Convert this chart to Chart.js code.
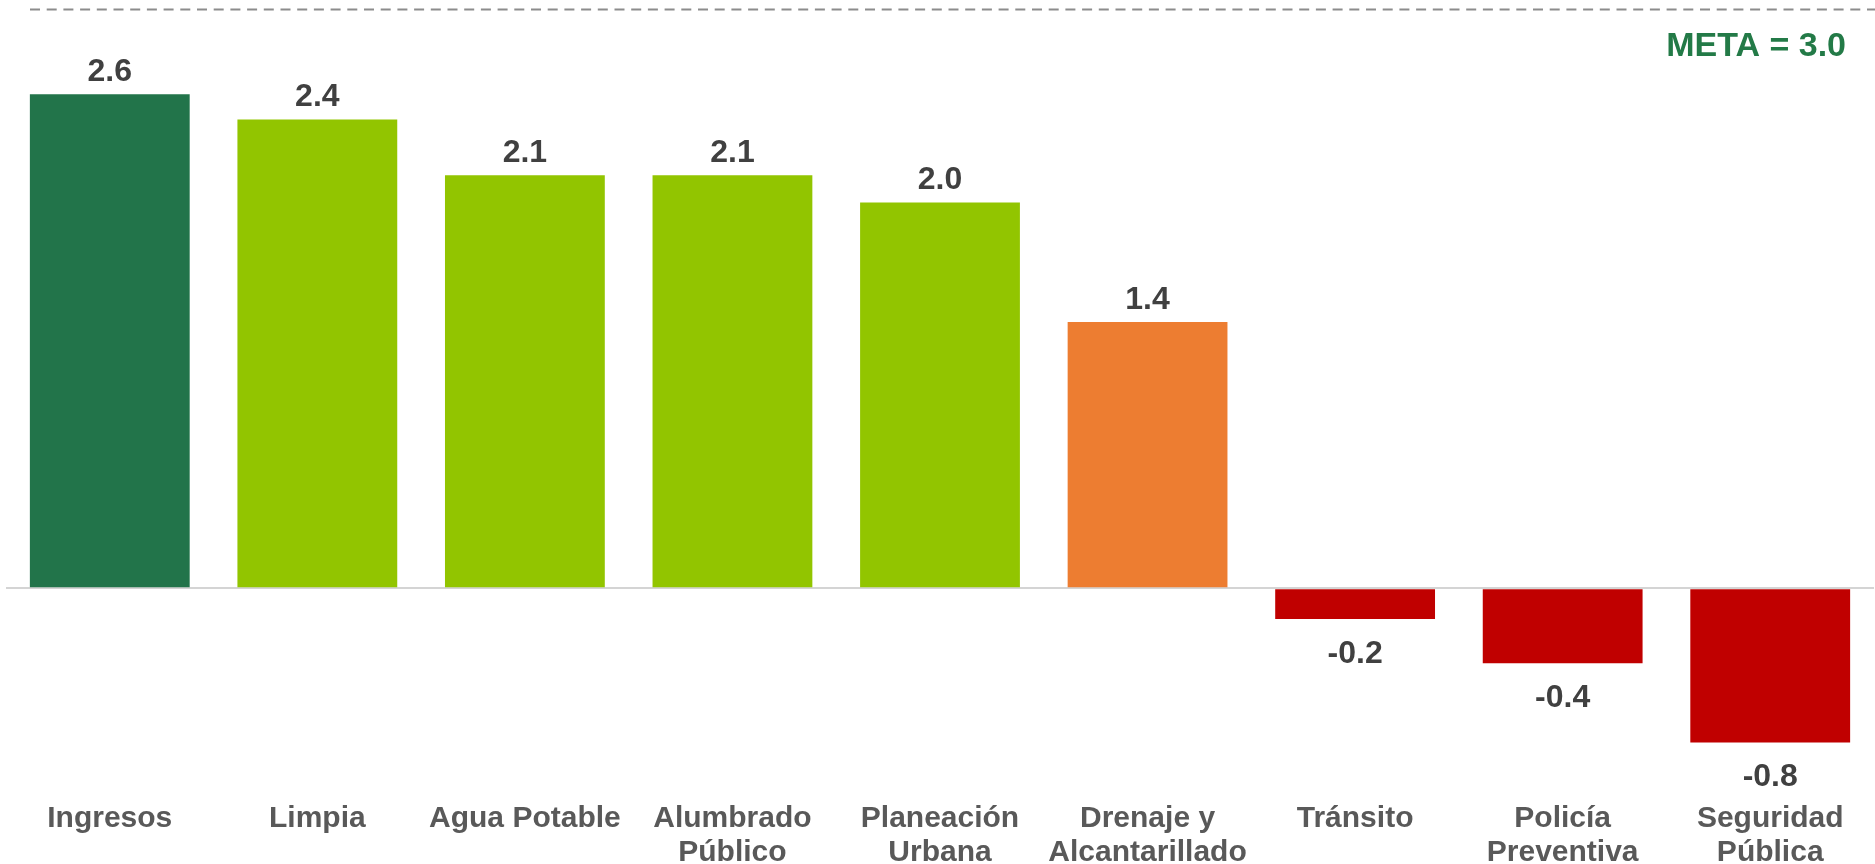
<!DOCTYPE html>
<html>
<head>
<meta charset="utf-8">
<script src="https://cdn.jsdelivr.net/npm/chart.js@4/dist/chart.umd.min.js"></script>
<style>
html, body { margin: 0; padding: 0; background: #fff; }
#wrap { width: 1875px; height: 864px; position: relative; }
</style>
</head>
<body>
<div id="wrap"><canvas id="barChart"></canvas></div>
<script>
// datos del indicador
const categorias = [
    "Ingresos",
    "Limpia",
    "Agua Potable",
    ["Alumbrado", "Público"],
    ["Planeación", "Urbana"],
    ["Drenaje y", "Alcantarillado"],
    "Tránsito",
    ["Policía", "Preventiva"],
    ["Seguridad", "Pública"]
];
const valores = [2.56, 2.43, 2.14, 2.14, 2.0, 1.38, -0.16, -0.39, -0.8];
const colores = ["#22744A", "#92C500", "#92C500", "#92C500", "#92C500", "#ED7D31", "#C00000", "#C00000", "#C00000"];
const meta = 3.0;
const ejeMin = -1.0;

const fuente = "'Liberation Sans', Arial, sans-serif";

// etiquetas de valor sobre / bajo cada barra
const etiquetasPlugin = {
    id: "etiquetas",
    afterDatasetsDraw(chart) {
        const ctx = chart.ctx;
        const meta0 = chart.getDatasetMeta(0);
        ctx.save();
        ctx.font = "bold 32px " + fuente;
        ctx.fillStyle = "#404040";
        ctx.textAlign = "center";
        ctx.textBaseline = "alphabetic";
        meta0.data.forEach((bar, i) => {
            const v = valores[i];
            const txt = v.toFixed(1);
            if (v >= 0) {
                ctx.fillText(txt, bar.x, bar.y - 13);
            } else {
                ctx.fillText(txt, bar.x, bar.y + 44);
            }
        });
        ctx.restore();
    }
};

// linea de meta punteada + texto
const metaPlugin = {
    id: "metaLinea",
    afterDraw(chart) {
        const ctx = chart.ctx;
        const y = chart.scales.y.getPixelForValue(meta);
        ctx.save();
        ctx.strokeStyle = "#8C8C8C";
        ctx.lineWidth = 2;
        ctx.setLineDash([10, 6.7]);
        ctx.beginPath();
        ctx.moveTo(30, y);
        ctx.lineTo(chart.width, y);
        ctx.stroke();
        ctx.setLineDash([]);
        ctx.font = "bold 34px " + fuente;
        ctx.fillStyle = "#237A47";
        ctx.textAlign = "right";
        ctx.textBaseline = "alphabetic";
        ctx.fillText("META = " + meta.toFixed(1), chart.chartArea.right - 28, y + 46);
        ctx.restore();
    }
};

new Chart(document.getElementById("barChart"), {
    type: "bar",
    data: {
        labels: categorias,
        datasets: [{
            data: valores,
            backgroundColor: colores,
            borderWidth: 0,
            categoryPercentage: 1.0,
            barPercentage: 0.77
        }]
    },
    options: {
        responsive: true,
        maintainAspectRatio: false,
        animation: false,
        layout: { padding: { top: 9.5, left: 6, right: 1, bottom: 0 } },
        plugins: {
            legend: { display: false },
            tooltip: { enabled: false }
        },
        scales: {
            x: {
                grid: { display: false, drawTicks: false },
                border: { display: false },
                ticks: {
                    padding: 21,
                    maxRotation: 0,
                    autoSkip: false,
                    color: "#595959",
                    font: { family: fuente, size: 30, weight: "bold", lineHeight: 34 / 30 }
                },
                afterFit(axis) { axis.height = 83; }
            },
            y: {
                min: ejeMin,
                max: meta,
                border: { display: false },
                grid: {
                    drawTicks: false,
                    lineWidth: 2,
                    color: (c) => (c.tick && c.tick.value === 0 ? "#D4D4D4" : "rgba(0,0,0,0)")
                },
                ticks: { display: false, stepSize: 0.5 }
            }
        }
    },
    plugins: [etiquetasPlugin, metaPlugin]
});
</script>
</body>
</html>
